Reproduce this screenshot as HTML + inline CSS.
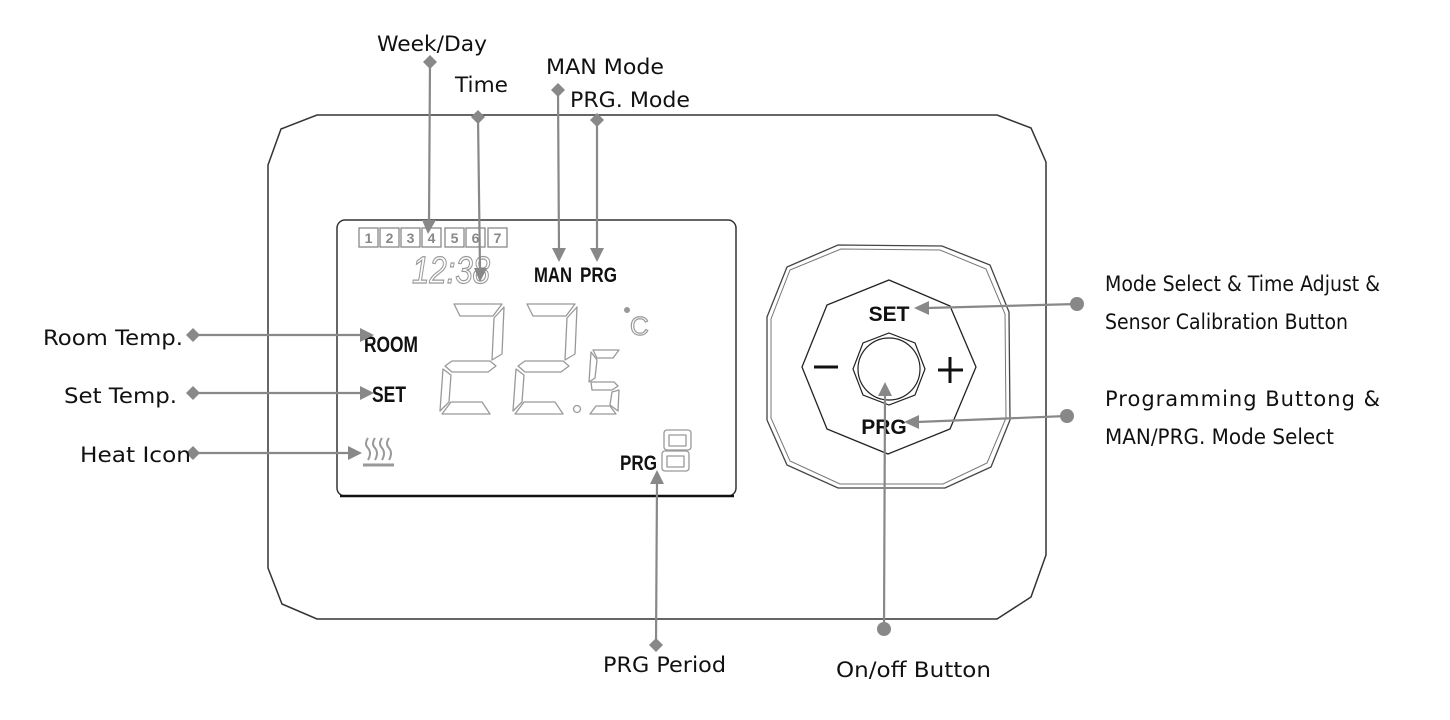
<!DOCTYPE html>
<html><head><meta charset="utf-8"><style>
html,body{margin:0;padding:0;background:#fff}
svg{display:block}
.lbl{font-family:"DejaVu Sans","Liberation Sans",sans-serif;font-size:21px;fill:#111}
.lcd{font-family:"Liberation Sans",sans-serif;font-weight:bold;fill:#111}
.seg{fill:#fff;stroke:#999;stroke-width:1.3;stroke-linejoin:round}
.c{stroke:#888;stroke-width:2.2;fill:none}
.g{fill:#888}
</style></head><body>
<svg width="1450" height="720" viewBox="0 0 1450 720" xmlns="http://www.w3.org/2000/svg">
<path d="M317,115 L997,115 L1031,128 L1046,162 L1046,555 L1031,597 L997,619 L317,619 L282,604 L268,568 L268,165 L281,129 Z" fill="none" stroke="#333" stroke-width="1.5"/>
<rect x="337" y="220" width="399" height="276" rx="8" fill="none" stroke="#333" stroke-width="1.5"/>
<line x1="340" y1="496" x2="734" y2="496" stroke="#111" stroke-width="2.5"/>
<g font-family="Liberation Sans,sans-serif" font-size="14" font-weight="bold" fill="#888" text-anchor="middle">
<rect x="359" y="228" width="19" height="19" fill="none" stroke="#888" stroke-width="1.3"/><text x="368.5" y="243">1</text>
<rect x="380" y="228" width="19" height="19" fill="none" stroke="#888" stroke-width="1.3"/><text x="389.5" y="243">2</text>
<rect x="401" y="228" width="19" height="19" fill="none" stroke="#888" stroke-width="1.3"/><text x="410.5" y="243">3</text>
<rect x="422" y="228" width="19" height="19" fill="none" stroke="#888" stroke-width="1.3"/><text x="431.5" y="243">4</text>
<rect x="445" y="228" width="19" height="19" fill="none" stroke="#888" stroke-width="1.3"/><text x="454.5" y="243">5</text>
<rect x="466" y="228" width="19" height="19" fill="none" stroke="#888" stroke-width="1.3"/><text x="475.5" y="243">6</text>
<rect x="488" y="228" width="19" height="19" fill="none" stroke="#888" stroke-width="1.3"/><text x="497.5" y="243">7</text>
</g>
<text x="412" y="283" font-family="Liberation Sans,sans-serif" font-style="italic" font-size="38" fill="#fff" stroke="#999" stroke-width="1.2" textLength="78" lengthAdjust="spacingAndGlyphs">12:38</text>
<text class="lcd" x="534" y="282" font-size="21" textLength="38" lengthAdjust="spacingAndGlyphs">MAN</text>
<text class="lcd" x="580" y="282" font-size="21" textLength="37" lengthAdjust="spacingAndGlyphs">PRG</text>
<g class="seg">
<polygon points="454,304 502,304 493,316 460,316"/>
<polygon points="504,307 502,354 492,360 494,318"/>
<polygon points="452,361 490,361 496,366 488,372 452,372 445,366"/>
<polygon points="443,369 451,375 449,402 440,411"/>
<polygon points="442,414 490,414 482,402 451,402"/>
<polygon points="527,304 575,304 566,316 533,316"/>
<polygon points="577,307 575,354 565,360 567,318"/>
<polygon points="525,361 563,361 569,366 561,372 525,372 518,366"/>
<polygon points="516,369 524,375 522,402 513,411"/>
<polygon points="515,414 563,414 555,402 524,402"/>
<polygon points="593,350 619,350 613,358 597,358"/>
<polygon points="591,352 597,360 595,378 589,382"/>
<polygon points="591,382 614,382 618,386 612,390 592,390"/>
<polygon points="619,390 618,411 610,405 612,392"/>
<polygon points="590,414 616,414 610,406 596,406"/>
<circle cx="577" cy="409" r="3.5"/>
</g>
<circle cx="627" cy="310" r="3" fill="#999"/>
<text x="630" y="335" font-family="Liberation Sans,sans-serif" font-size="26" fill="#fff" stroke="#999" stroke-width="1.2">C</text>
<text class="lcd" x="364" y="352" font-size="22" textLength="54" lengthAdjust="spacingAndGlyphs">ROOM</text>
<text class="lcd" x="372" y="402" font-size="22" textLength="34" lengthAdjust="spacingAndGlyphs">SET</text>
<g stroke="#999" stroke-width="2" fill="none">
<path d="M368,438 q-4,6 0,10 q4,5 0,12"/>
<path d="M375,438 q-4,6 0,10 q4,5 0,12"/>
<path d="M382,438 q-4,6 0,10 q4,5 0,12"/>
<path d="M389,438 q-4,6 0,10 q4,5 0,12"/>
<line x1="363" y1="465" x2="394" y2="465" stroke-width="3"/>
</g>
<text class="lcd" x="620" y="470" font-size="21" textLength="37" lengthAdjust="spacingAndGlyphs">PRG</text>
<g class="seg">
<rect x="664" y="430" width="27" height="20" rx="3"/>
<rect x="662" y="451" width="27" height="20" rx="3"/>
<rect x="669" y="435" width="17" height="11"/>
<rect x="667" y="456" width="17" height="11"/>
</g>
<path d="M838,245 L942,246 L990,265 L1009,312 L1010,420 L991,467 L945,488 L838,488 L787,465 L767,420 L767,317 L787,267 Z" fill="none" stroke="#444" stroke-width="1.3"/>
<path d="M841,249 L940,250 L986,269 L1005,314 L1006,418 L987,463 L943,484 L840,484 L790,461 L771,418 L771,319 L790,270 Z" fill="none" stroke="#777" stroke-width="1"/>
<polygon points="889,280 950,306 976,367 950,429 888,454 827,429 802,367 827,305" fill="none" stroke="#222" stroke-width="1.3"/>
<polygon points="889,333 915,343 925,369 915,395 889,405 863,395 853,369 863,343" fill="none" stroke="#222" stroke-width="1.2"/>
<circle cx="889" cy="369" r="31" fill="none" stroke="#222" stroke-width="1.2"/>
<text x="889" y="321" font-family="Liberation Sans,sans-serif" font-weight="bold" font-size="21" text-anchor="middle" fill="#111">SET</text>
<text x="884" y="434" font-family="Liberation Sans,sans-serif" font-weight="bold" font-size="21" text-anchor="middle" fill="#111">PRG</text>
<line x1="814" y1="367" x2="838" y2="367" stroke="#111" stroke-width="3"/>
<line x1="938" y1="370" x2="963" y2="370" stroke="#111" stroke-width="3"/>
<line x1="950" y1="357" x2="950" y2="383" stroke="#111" stroke-width="3"/>
<g class="c">
<line x1="430" y1="62" x2="429" y2="222"/>
<line x1="478" y1="117" x2="480" y2="270"/>
<line x1="558" y1="90" x2="559" y2="250"/>
<line x1="597" y1="120" x2="597" y2="250"/>
<line x1="193" y1="335" x2="362" y2="335"/>
<line x1="193" y1="393" x2="362" y2="393"/>
<line x1="193" y1="453" x2="350" y2="453"/>
<line x1="656" y1="645" x2="657" y2="482"/>
<line x1="1077" y1="304" x2="927" y2="308"/>
<line x1="1067" y1="416" x2="917" y2="422"/>
<line x1="884" y1="629" x2="885" y2="394"/>
</g>
<g class="g">
<polygon points="428,234 422,220 436,220"/>
<polygon points="480,282 474,268 487,268"/>
<polygon points="559,262 552,248 566,248"/>
<polygon points="597,262 590,248 604,248"/>
<polygon points="374,335 360,328 360,342"/>
<polygon points="374,393 360,386 360,400"/>
<polygon points="362,453 348,446 348,460"/>
<polygon points="657,470 650,484 664,484"/>
<polygon points="914,308 929,301 929,315"/>
<polygon points="904,422 919,415 919,429"/>
<polygon points="885,382 878,396 892,396"/>
<polygon points="430,55 437,62 430,69 423,62"/>
<polygon points="478,110 485,117 478,124 471,117"/>
<polygon points="558,83 565,90 558,97 551,90"/>
<polygon points="597,113 604,120 597,127 590,120"/>
<polygon points="193,328 200,335 193,342 186,335"/>
<polygon points="193,386 200,393 193,400 186,393"/>
<polygon points="193,446 200,453 193,460 186,453"/>
<polygon points="656,638 663,645 656,652 649,645"/>
<circle cx="1077" cy="304" r="7"/>
<circle cx="1067" cy="416" r="7"/>
<circle cx="884" cy="629" r="7"/>
</g>
<text class="lbl" x="377" y="51" textLength="110" lengthAdjust="spacingAndGlyphs">Week/Day</text>
<text class="lbl" x="455" y="92" textLength="53" lengthAdjust="spacingAndGlyphs">Time</text>
<text class="lbl" x="546" y="74" textLength="118" lengthAdjust="spacingAndGlyphs">MAN Mode</text>
<text class="lbl" x="570" y="107" textLength="120" lengthAdjust="spacingAndGlyphs">PRG. Mode</text>
<text class="lbl" x="43" y="345" textLength="140" lengthAdjust="spacingAndGlyphs">Room Temp.</text>
<text class="lbl" x="64" y="403" textLength="113" lengthAdjust="spacingAndGlyphs">Set Temp.</text>
<text class="lbl" x="80" y="462" textLength="111" lengthAdjust="spacingAndGlyphs">Heat Icon</text>
<text class="lbl" x="603" y="672" textLength="123" lengthAdjust="spacingAndGlyphs">PRG Period</text>
<text class="lbl" x="836" y="677" textLength="155" lengthAdjust="spacingAndGlyphs">On/off Button</text>
<text class="lbl" x="1105" y="291" textLength="275" lengthAdjust="spacingAndGlyphs">Mode Select &amp; Time Adjust &amp;</text>
<text class="lbl" x="1105" y="329" textLength="243" lengthAdjust="spacingAndGlyphs">Sensor Calibration Button</text>
<text class="lbl" x="1105" y="406" textLength="275" lengthAdjust="spacing">Programming   Buttong   &amp;</text>
<text class="lbl" x="1105" y="444" textLength="229" lengthAdjust="spacingAndGlyphs">MAN/PRG. Mode Select</text>
</svg>
</body></html>
